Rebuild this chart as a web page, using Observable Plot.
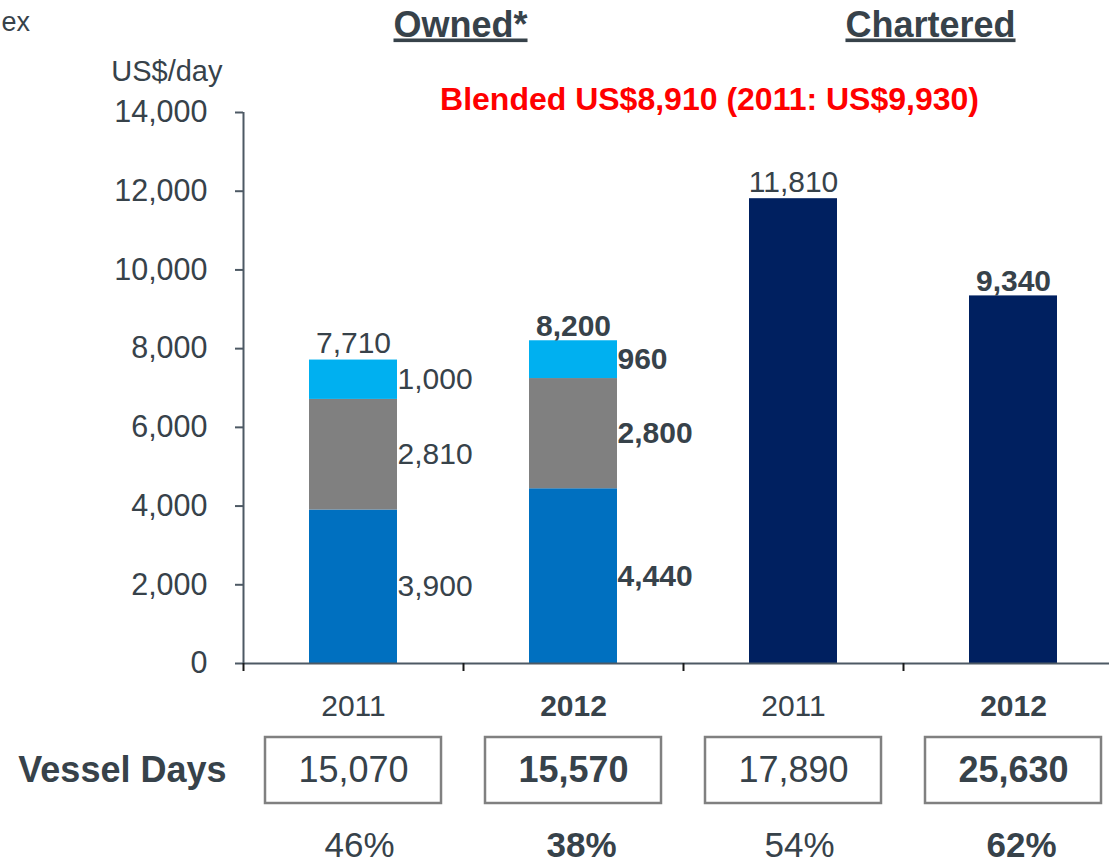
<!DOCTYPE html>
<html><head><meta charset="utf-8">
<script src="https://cdn.jsdelivr.net/npm/d3@7"></script>
<script src="https://cdn.jsdelivr.net/npm/@observablehq/plot@0.6"></script>
<style>
html,body{margin:0;padding:0;background:#fff;}
#chart svg{display:block;}
</style></head><body><div id="chart"></div>
<script>
// ---- data ----
const categories = ["Owned 2011", "Owned 2012", "Chartered 2011", "Chartered 2012"];
const years = ["2011", "2012", "2011", "2012"];
const boldYear = [false, true, false, true];
const groups = ["Owned*", "Chartered"];
const ownedBase = [3900, 4440];
const ownedMid = [2810, 2800];
const ownedTop = [1000, 960];
const ownedTotals = [7710, 8200];
const charteredValues = [11810, 9340];
const vesselDays = [15070, 15570, 17890, 25630];
const shares = [46, 38, 54, 62];
const yTicks = [0, 2000, 4000, 6000, 8000, 10000, 12000, 14000];
const subtitle = "Blended US$8,910 (2011: US$9,930)";
const yUnit = "US$/day";
const rowLabel = "Vessel Days";
const cornerText = "ex";

// ---- styles ----
const FONT = "Arial, 'Liberation Sans', sans-serif";
const TEXT = "#37424A";
const AXIS = "#4D5964";
const segKeys = ["base", "mid", "top", "chartered"];
const segColors = ["#0070C0", "#808080", "#00B0F0", "#002060"];
const fmt = d3.format(",");

// ---- derived rows ----
const bars = [];
const segLabels = [];
[0, 1].forEach(i => {
  const vals = [ownedBase[i], ownedMid[i], ownedTop[i]];
  let acc = 0;
  vals.forEach((v, k) => {
    bars.push({i, key: segKeys[k], y1: acc, y2: acc + v});
    segLabels.push({i, value: v, mid: acc + v / 2, bold: boldYear[i]});
    acc += v;
  });
});
charteredValues.forEach((v, j) => bars.push({i: j + 2, key: "chartered", y1: 0, y2: v}));
const totals = [
  ...ownedTotals.map((v, i) => ({i, value: v, bold: boldYear[i]})),
  ...charteredValues.map((v, j) => ({i: j + 2, value: v, bold: boldYear[j + 2]}))
];
const cats = categories.map((c, i) => ({i, c, year: years[i], bold: boldYear[i], days: vesselDays[i], share: shares[i]}));

const xScale = {type: "linear", domain: [0, 4], range: [243, 1123], axis: null};

const main = Plot.plot({
  width: 1109, height: 730,
  marginTop: 112, marginBottom: 67, marginLeft: 243, marginRight: 0,
  style: {fontFamily: FONT, color: TEXT, background: "white", overflow: "visible"},
  x: xScale,
  y: {domain: [0, 14000], axis: null},
  color: {domain: segKeys, range: segColors},
  marks: [
    Plot.rect(bars, {x1: d => d.i + 0.3, x2: d => d.i + 0.7, y1: "y1", y2: "y2", fill: "key"}),
    Plot.ruleX([0], {y1: 0, y2: 14000, stroke: AXIS, strokeWidth: 2}),
    Plot.ruleY([0], {stroke: AXIS, strokeWidth: 2}),
    Plot.axisY({ticks: yTicks, tickFormat: fmt, tickSize: 8, tickPadding: 28, fontSize: 30.5, stroke: AXIS, fill: TEXT, strokeWidth: 2, label: null}),
    Plot.axisX({ticks: [0, 1, 2, 3, 4], tickSize: 8, tickFormat: () => "", stroke: "#1a1a1a", strokeWidth: 2, label: null}),
    // totals
    Plot.text(totals.filter(d => !d.bold), {x: d => d.i + 0.5, y: "value", text: d => fmt(d.value), lineAnchor: "bottom", dy: -7, fontSize: 30, fill: TEXT}),
    Plot.text(totals.filter(d => d.bold), {x: d => d.i + 0.5, y: "value", text: d => fmt(d.value), lineAnchor: "bottom", dy: -5, fontSize: 30, fontWeight: "bold", fill: TEXT}),
    // segment labels
    Plot.text(segLabels.filter(d => !d.bold), {x: d => d.i + 0.7, y: "mid", text: d => fmt(d.value), textAnchor: "start", lineAnchor: "middle", dx: 0, fontSize: 30, fill: TEXT}),
    Plot.text(segLabels.filter(d => d.bold), {x: d => d.i + 0.7, y: "mid", text: d => fmt(d.value), textAnchor: "start", lineAnchor: "middle", dx: 0, fontSize: 30, fontWeight: "bold", fill: TEXT}),
    // category year labels
    Plot.text(cats.filter(d => !d.bold), {x: d => d.i + 0.5, frameAnchor: "bottom", text: "year", lineAnchor: "middle", dy: 43, fontSize: 30, fill: TEXT}),
    Plot.text(cats.filter(d => d.bold), {x: d => d.i + 0.5, frameAnchor: "bottom", text: "year", lineAnchor: "middle", dy: 43, fontSize: 30, fontWeight: "bold", fill: TEXT}),
    // unit label
    Plot.text([yUnit], {frameAnchor: "top-left", text: d => d, textAnchor: "end", lineAnchor: "middle", dx: -21, dy: -41, fontSize: 29, fill: TEXT}),
    // corner text (cut-off title fragment)
    Plot.text([cornerText], {frameAnchor: "top-left", text: d => d, textAnchor: "start", lineAnchor: "middle", dx: -242, dy: -90, fontSize: 27, fill: TEXT}),
    // group titles
    Plot.text([groups[0]], {x: 1, frameAnchor: "top", text: d => d, lineAnchor: "bottom", dx: -3, dy: -76, fontSize: 36, fontWeight: "bold", fill: TEXT}),
    Plot.text([groups[1]], {x: 3, frameAnchor: "top", text: d => d, lineAnchor: "bottom", dx: 27, dy: -76, fontSize: 36, fontWeight: "bold", fill: TEXT}),
    // subtitle
    Plot.text([subtitle], {x: 2, frameAnchor: "top", text: d => d, lineAnchor: "bottom", dx: 26, dy: -3, fontSize: 32, fontWeight: "bold", fill: "#FF0000"})
  ]
});

d3.select(main).selectAll("text")
  .filter(function() { return groups.includes(this.textContent); })
  .style("text-decoration", "underline");

const lower = Plot.plot({
  width: 1109, height: 135,
  marginTop: 7, marginBottom: 62, marginLeft: 243, marginRight: 0,
  style: {fontFamily: FONT, color: TEXT, background: "white", overflow: "visible"},
  x: xScale,
  y: {domain: [0, 1], axis: null},
  marks: [
    Plot.rect(cats, {x1: d => d.i + 0.1, x2: d => d.i + 0.9, y1: 0, y2: 1, fill: "white", stroke: "#808080", strokeWidth: 2.5}),
    Plot.text(cats.filter(d => !d.bold), {x: d => d.i + 0.5, y: 0.5, text: d => fmt(d.days), lineAnchor: "middle", fontSize: 36, fill: TEXT}),
    Plot.text(cats.filter(d => d.bold), {x: d => d.i + 0.5, y: 0.5, text: d => fmt(d.days), lineAnchor: "middle", fontSize: 36, fontWeight: "bold", fill: TEXT}),
    Plot.text([rowLabel], {frameAnchor: "left", text: d => d, textAnchor: "end", lineAnchor: "middle", dx: -17, fontSize: 36, fontWeight: "bold", fill: TEXT}),
    Plot.text(cats.filter(d => !d.bold), {x: d => d.i + 0.5, frameAnchor: "bottom", text: d => d.share + "%", lineAnchor: "middle", dx: 6, dy: 42, fontSize: 35, fill: TEXT}),
    Plot.text(cats.filter(d => d.bold), {x: d => d.i + 0.5, frameAnchor: "bottom", text: d => d.share + "%", lineAnchor: "middle", dx: 8, dy: 42, fontSize: 35, fontWeight: "bold", fill: TEXT})
  ]
});

document.getElementById("chart").append(main, lower);
</script>
</body></html>
